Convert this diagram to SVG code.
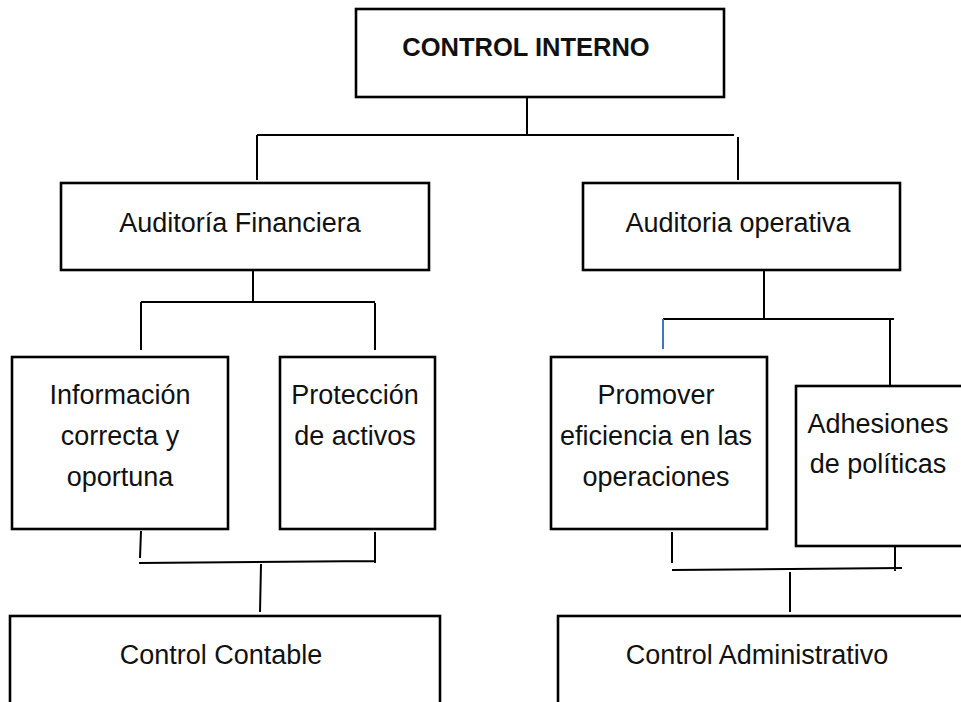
<svg xmlns="http://www.w3.org/2000/svg" width="961" height="702" viewBox="0 0 961 702">
<style>
.box{fill:#fff;stroke:#000;stroke-width:2.6}
.t{font-family:"Liberation Sans",Arial,sans-serif;font-size:27px;fill:#111;text-anchor:middle}
.b{font-weight:bold;font-size:25.5px}
.c{fill:none;stroke:#000;stroke-width:2}
</style>
<rect width="961" height="702" fill="#fff"/>
<g id="connectors">
<path class="c" d="M527,97 V135 M257,135 H734 M257,135 V180 M738,137 V180"/>
<path class="c" d="M253,270 V302 M141,302 H375 M141,302 V350 M375,303 V350"/>
<path class="c" d="M764,270 V319 M663,319 H894 M890,319 V388"/>
<path d="M663,319 V349" fill="none" stroke="#4472C4" stroke-width="2"/>
<path class="c" d="M141,531 L140,558 M139,563 L375,561 M375,532 V563 M261,564 L260,612"/>
<path class="c" d="M672,532 V563 M672,570 L902,568 M895,544 V571 M790,572 V612"/>
</g>
<g id="control-interno"><rect class="box" x="356" y="9" width="368" height="88"/><text class="t b" x="526" y="56">CONTROL INTERNO</text></g>
<g id="auditoria-financiera"><rect class="box" x="61" y="183" width="368" height="87"/><text class="t" x="240" y="232">Auditoría Financiera</text></g>
<g id="auditoria-operativa"><rect class="box" x="583" y="183" width="317" height="87"/><text class="t" x="738" y="232">Auditoria operativa</text></g>
<g id="informacion"><rect class="box" x="12" y="357" width="216" height="172"/><text class="t" x="120" y="404">Información</text><text class="t" x="120" y="445">correcta y</text><text class="t" x="120" y="486">oportuna</text></g>
<g id="proteccion"><rect class="box" x="280" y="357" width="155" height="172"/><text class="t" x="355" y="404">Protección</text><text class="t" x="355" y="445">de activos</text></g>
<g id="promover"><rect class="box" x="551" y="357" width="216" height="172"/><text class="t" x="656" y="404">Promover</text><text class="t" x="656" y="445">eficiencia en las</text><text class="t" x="656" y="486">operaciones</text></g>
<g id="adhesiones"><rect class="box" x="796" y="386" width="180" height="160"/><text class="t" x="878" y="433">Adhesiones</text><text class="t" x="878" y="473">de políticas</text></g>
<g id="control-contable"><rect class="box" x="10" y="616" width="430" height="110"/><text class="t" x="221" y="664">Control Contable</text></g>
<g id="control-administrativo"><rect class="box" x="558" y="616" width="420" height="110"/><text class="t" x="757" y="664">Control Administrativo</text></g>
</svg>
